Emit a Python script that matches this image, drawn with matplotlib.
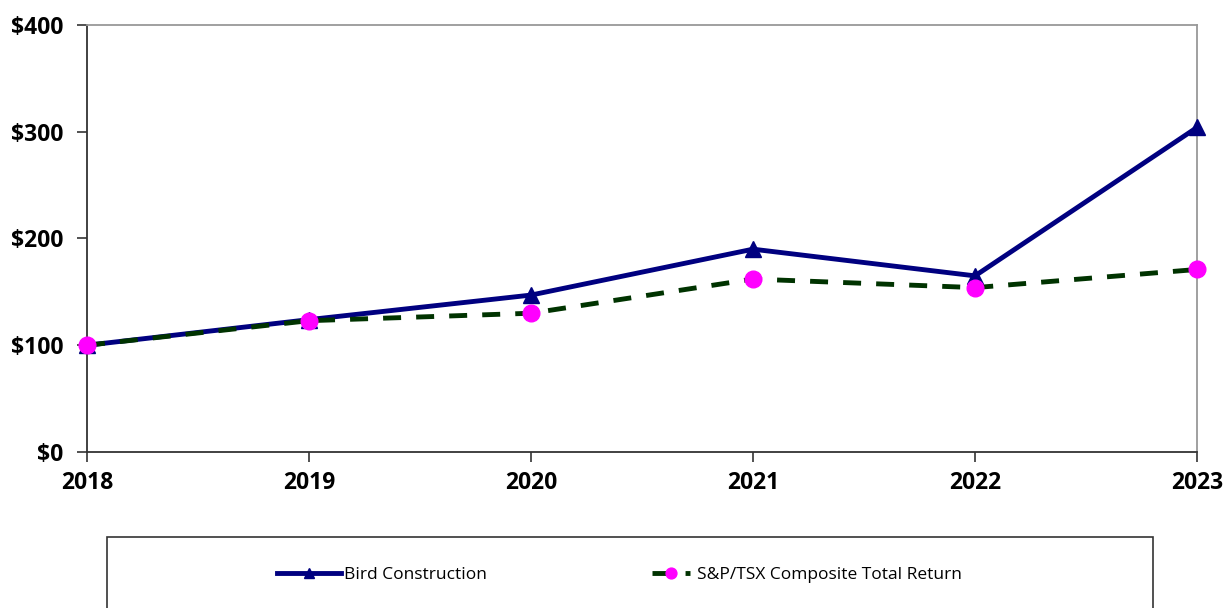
import matplotlib
matplotlib.use('Agg')
import matplotlib.pyplot as plt
from matplotlib.patches import Rectangle

years = ["2018", "2019", "2020", "2021", "2022", "2023"]
bird = [100, 124, 147, 190, 165, 304]
tsx = [100, 123, 130, 162, 154, 171]
yticks = [0, 100, 200, 300, 400]

plt.rcParams['font.family'] = ['Open Sans', 'DejaVu Sans']

fig = plt.figure(figsize=(12.28, 6.08), dpi=100)
ax = fig.add_axes([87/1228, 1 - 452/608, (1197-87)/1228, (452-25)/608])

x = list(range(len(years)))
l1, = ax.plot(x, bird, color='#000080', lw=3.5, marker='^', ms=11,
              label='Bird Construction', zorder=3, clip_on=False)
l2, = ax.plot(x, tsx, color='#003300', lw=3.5, ls=(0, (3.7, 3.1)), marker='o', ms=12,
              mfc='#FF00FF', mec='#FF00FF', label='S&P/TSX Composite Total Return',
              zorder=4, clip_on=False)

ax.set_xlim(0, len(years) - 1)
ax.set_ylim(0, 400)
ax.set_xticks(x)
ax.set_xticklabels(years, fontsize=16.5, fontweight='bold')
ax.set_yticks(yticks)
ax.set_yticklabels(['$%d' % v for v in yticks], fontsize=16.5, fontweight='bold')
ax.tick_params(axis='both', direction='out', length=7, width=1.2, color='#333333')
ax.tick_params(axis='x', pad=7)
ax.tick_params(axis='y', pad=10)
for s in ['left', 'bottom']:
    ax.spines[s].set_color('#333333')
    ax.spines[s].set_linewidth(1.3)
for s in ['top', 'right']:
    ax.spines[s].set_color('#999999')
    ax.spines[s].set_linewidth(1.3)

# legend box that runs off the bottom of the figure
fig.patches.append(Rectangle((107/1228, -0.05), (1153-107)/1228, 0.05 + (608-537)/608,
                             transform=fig.transFigure, fill=False,
                             edgecolor='#333333', lw=1.2))
ly = 1 - 575/608
fig.legend(handles=[l1], loc='center left', bbox_to_anchor=(277/1228, ly),
           frameon=False, fontsize=12.5, borderpad=0, borderaxespad=0,
           handlelength=3.7, handletextpad=0.15, markerscale=0.7)
fig.legend(handles=[l2], loc='center left', bbox_to_anchor=(652/1228, ly),
           frameon=False, fontsize=12.5, borderpad=0, borderaxespad=0,
           handlelength=2.2, handletextpad=0.4, markerscale=0.65)

plt.savefig('out.png', dpi=100)
